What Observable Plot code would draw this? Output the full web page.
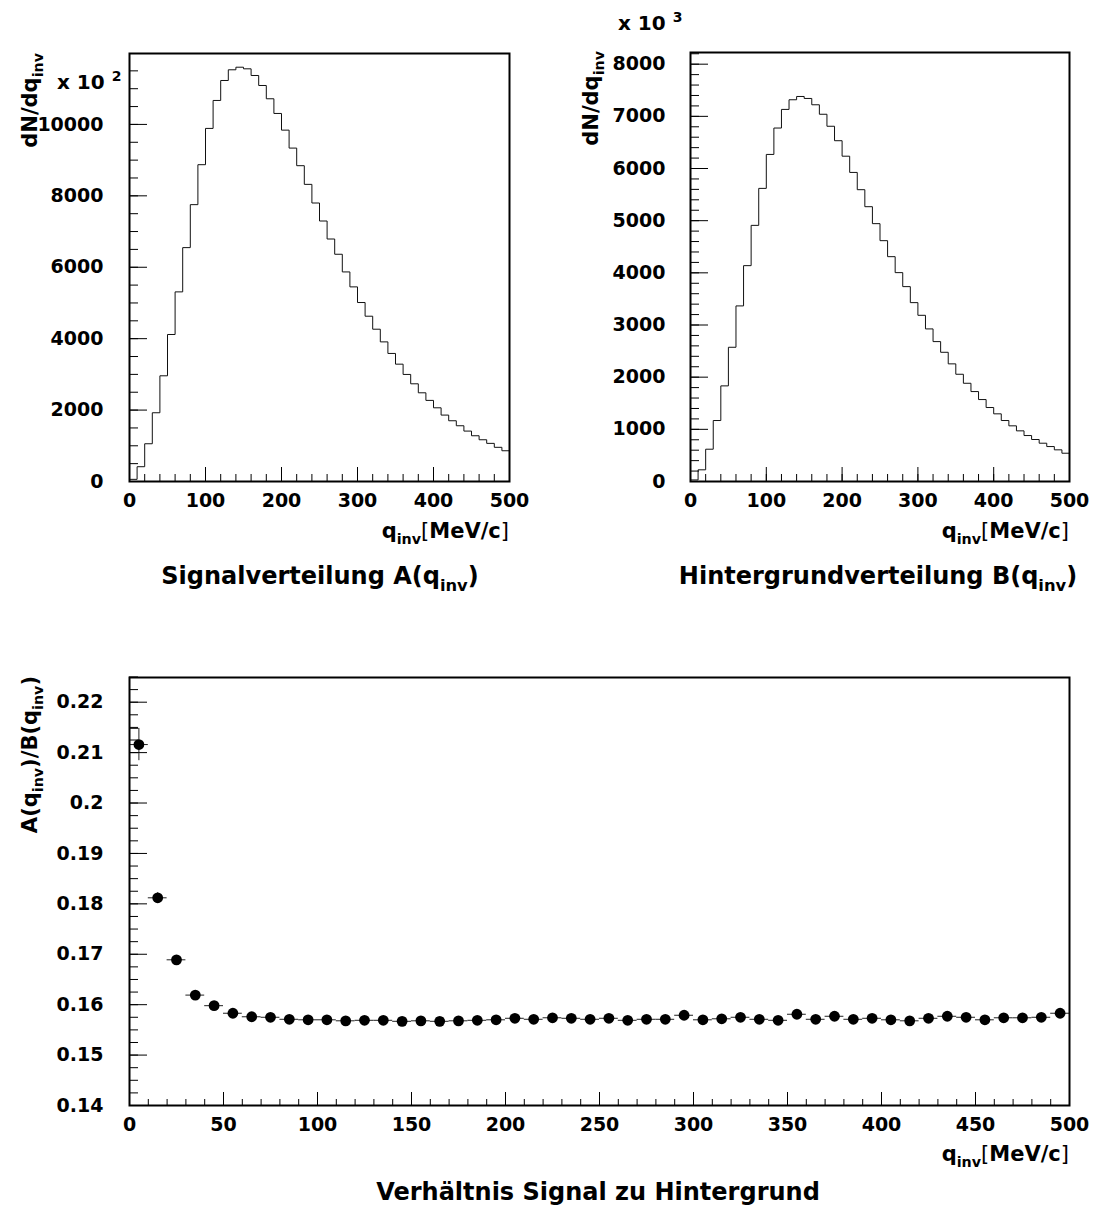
<!DOCTYPE html>
<html><head><meta charset="utf-8">
<script src="https://cdn.jsdelivr.net/npm/d3@7"></script>
<script src="https://cdn.jsdelivr.net/npm/@observablehq/plot@0.6"></script>
<style>
body{margin:0;background:#fff;}
#chart{position:relative;width:1096px;height:1208px;background:#fff;overflow:hidden;}
#chart > svg{position:absolute;}
</style></head><body><div id="chart"></div>
<script>
// ---- data ----
const binEdges = [0,10,20,30,40,50,60,70,80,90,100,110,120,130,140,150,160,170,180,190,200,210,220,230,240,250,260,270,280,290,300,310,320,330,340,350,360,370,380,390,400,410,420,430,440,450,460,470,480,490,500];
// Signalverteilung A(q_inv), in units of 10^2
const signalA = [60,414,1057,1925,2960,4117,5310,6550,7753,8872,9888,10671,11230,11530,11602,11557,11370,11090,10718,10307,9840,9337,8844,8321,7799,7295,6791,6364,5869,5450,5012,4629,4265,3910,3586,3286,2998,2736,2484,2271,2064,1860,1701,1561,1412,1281,1169,1068,957,861];
// Hintergrundverteilung B(q_inv), in units of 10^3
const backgroundB = [30,224,619,1169,1833,2573,3366,4138,4910,5619,6270,6776,7133,7318,7381,7343,7222,7040,6810,6533,6236,5925,5594,5268,4943,4617,4310,4004,3736,3429,3186,2925,2682,2477,2255,2056,1883,1724,1571,1418,1297,1169,1067,971,881,805,734,670,607,542];
// Verhältnis A/B
const ratioAB = [0.2116,0.1812,0.1689,0.1619,0.1598,0.1583,0.1576,0.1575,0.1571,0.1570,0.1570,0.1568,0.1569,0.1569,0.1567,0.1568,0.1567,0.1568,0.1569,0.1570,0.1573,0.1571,0.1574,0.1573,0.1571,0.1573,0.1569,0.1571,0.1571,0.1579,0.1570,0.1572,0.1575,0.1571,0.1569,0.1581,0.1571,0.1577,0.1571,0.1573,0.1570,0.1568,0.1573,0.1577,0.1575,0.1570,0.1574,0.1574,0.1575,0.1583];
const ratioErr = [0.0032,0.0010,0.0006,0.0005,0.0004,0.0004,0.0003,0.0003,0.0003,0.0003,0.0003,0.0003,0.0003,0.0003,0.0003,0.0003,0.0003,0.0003,0.0003,0.0003,0.0003,0.0003,0.0003,0.0003,0.0003,0.0003,0.0003,0.0003,0.0003,0.0003,0.0003,0.0003,0.0003,0.0003,0.0003,0.0003,0.0003,0.0003,0.0003,0.0003,0.0003,0.0003,0.0003,0.0003,0.0003,0.0003,0.0003,0.0003,0.0003,0.0003];

// tick labels and axis ranges
const qDomain = [0, 500];
const histXTicks = [0,100,200,300,400,500];
const signalYTicks = [0,2000,4000,6000,8000,10000];
const backgroundYTicks = [0,1000,2000,3000,4000,5000,6000,7000,8000];
const ratioXTicks = [0,50,100,150,200,250,300,350,400,450,500];
const ratioYTicks = [0.14,0.15,0.16,0.17,0.18,0.19,0.2,0.21,0.22];
const signalYDomain = [0, 11986];
const backgroundYDomain = [0, 8224];
const ratioYDomain = [0.14, 0.2249];
// minor tick steps
const histXMinor = d3.range(0, 501, 20);
const signalYMinor = d3.range(0, 11986, 500);
const backgroundYMinor = d3.range(0, 8224, 200);
const ratioXMinor = d3.range(0, 501, 10);
const ratioYMinor = d3.range(0, 35).map(i => 0.14 + i * 0.0025);

// ---- helpers ----
const FONT = "DejaVu Sans";
const baseStyle = {fontFamily: FONT, fontWeight: "bold", fontSize: "19px", color: "black", background: "transparent", overflow: "visible", maxWidth: "none"};
const blank = () => "";

function frameAxes({xTicks, xMinor, yTicks, yMinor, xMaj, xMin, yMaj, yMin, xPad, yPad}) {
  return [
    Plot.axisX({ticks: xMinor, tickSize: -xMin, tickFormat: blank, label: null, stroke: "black"}),
    Plot.axisX({ticks: xTicks, tickSize: -xMaj, tickFormat: blank, label: null, stroke: "black"}),
    Plot.axisX({ticks: xTicks, tickSize: 0, tickPadding: xPad, tickFormat: d => String(d), label: null, fill: "black"}),
    Plot.axisY({ticks: yMinor, tickSize: -yMin, tickFormat: blank, label: null, stroke: "black"}),
    Plot.axisY({ticks: yTicks, tickSize: -yMaj, tickFormat: blank, label: null, stroke: "black"}),
    Plot.axisY({ticks: yTicks, tickSize: 0, tickPadding: yPad, tickFormat: d => String(d), label: null, fill: "black"}),
    Plot.frame({stroke: "black", strokeWidth: 2})
  ];
}

function histTable(values) {
  return binEdges.map((e, i) => ({q: e, n: values[Math.min(i, values.length - 1)]}));
}

function place(svg, left, top) {
  svg.style.left = left + "px";
  svg.style.top = top + "px";
  document.getElementById("chart").appendChild(svg);
}

// ---- top-left: Signalverteilung ----
const plotA = Plot.plot({
  width: 540, height: 515,
  marginLeft: 129, marginRight: 31, marginTop: 53, marginBottom: 34,
  x: {domain: qDomain},
  y: {domain: signalYDomain},
  style: baseStyle,
  marks: [
    Plot.line(histTable(signalA), {x: "q", y: "n", curve: "step-after", stroke: "#111", strokeWidth: 1}),
    ...frameAxes({xTicks: histXTicks, xMinor: histXMinor, yTicks: signalYTicks, yMinor: signalYMinor,
                  xMaj: 14, xMin: 7, yMaj: 18, yMin: 9, xPad: 12, yPad: 26})
  ]
});
place(plotA, 0, 0);

// ---- top-right: Hintergrundverteilung ----
const plotB = Plot.plot({
  width: 536, height: 515,
  marginLeft: 130, marginRight: 27, marginTop: 52, marginBottom: 34,
  x: {domain: qDomain},
  y: {domain: backgroundYDomain},
  style: baseStyle,
  marks: [
    Plot.line(histTable(backgroundB), {x: "q", y: "n", curve: "step-after", stroke: "#111", strokeWidth: 1}),
    ...frameAxes({xTicks: histXTicks, xMinor: histXMinor, yTicks: backgroundYTicks, yMinor: backgroundYMinor,
                  xMaj: 14, xMin: 7, yMaj: 18, yMin: 9, xPad: 12, yPad: 25})
  ]
});
place(plotB, 560, 0);

// ---- bottom: ratio ----
const ratioRows = ratioAB.map((v, i) => ({
  lo: binEdges[i], hi: binEdges[i + 1], c: (binEdges[i] + binEdges[i + 1]) / 2, v, e: ratioErr[i]
}));
const plotR = Plot.plot({
  width: 1096, height: 540,
  marginLeft: 129, marginRight: 27, marginTop: 77, marginBottom: 35,
  x: {domain: qDomain},
  y: {domain: ratioYDomain},
  style: baseStyle,
  marks: [
    Plot.ruleY(ratioRows, {y: "v", x1: "lo", x2: "hi", stroke: "#222", strokeWidth: 1}),
    Plot.ruleX(ratioRows, {x: "c", y1: d => d.v - d.e, y2: d => d.v + d.e, stroke: "#222", strokeWidth: 1}),
    Plot.ruleY(ratioRows.slice(0, 1), {y: d => d.v + d.e, x1: "lo", x2: "c", stroke: "#222", strokeWidth: 1}),
    Plot.dot(ratioRows, {x: "c", y: "v", r: 5.4, fill: "black", stroke: null}),
    ...frameAxes({xTicks: ratioXTicks, xMinor: ratioXMinor, yTicks: ratioYTicks, yMinor: ratioYMinor,
                  xMaj: 13, xMin: 6, yMaj: 18, yMin: 9, xPad: 12, yPad: 26})
  ]
});
place(plotR, 0, 600);

// ---- text overlay (titles, captions) ----
const overlay = d3.create("svg")
  .attr("width", 1096).attr("height", 1208)
  .style("left", "0px").style("top", "0px").style("pointer-events", "none")
  .attr("font-family", FONT).attr("font-weight", "bold").attr("fill", "black");

function richText({x, y, anchor = "start", rotate = false, size, parts}) {
  const t = overlay.append("text").attr("text-anchor", anchor).attr("font-size", size);
  if (rotate) t.attr("transform", `translate(${x},${y}) rotate(-90)`);
  else t.attr("x", x).attr("y", y);
  let shift = 0;
  for (const p of parts) {
    const ts = t.append("tspan").text(p.t);
    let target = 0;
    if (p.sub) { ts.attr("font-size", size * 0.68); target = size * 0.3; }
    if (p.sup) { ts.attr("font-size", size * 0.7); target = -size * 0.42; }
    if (p.thin) ts.attr("font-weight", "normal");
    if (target !== shift) { ts.attr("dy", target - shift); shift = target; }
  }
}

const qTitle = [{t: "q"}, {t: "inv", sub: true}, {t: "[", thin: true}, {t: "MeV/c"}, {t: "]", thin: true}];
const dndq = [{t: "dN/dq"}, {t: "inv", sub: true}];

richText({x: 57, y: 89, size: 20, parts: [{t: "x 10 "}, {t: "2", sup: true}]});
richText({x: 618, y: 30, size: 20, parts: [{t: "x 10 "}, {t: "3", sup: true}]});
richText({x: 37, y: 53, anchor: "end", rotate: true, size: 21, parts: dndq});
richText({x: 598, y: 51, anchor: "end", rotate: true, size: 21, parts: dndq});
richText({x: 509, y: 538, anchor: "end", size: 21, parts: qTitle});
richText({x: 1069, y: 538, anchor: "end", size: 21, parts: qTitle});
richText({x: 320, y: 584, anchor: "middle", size: 24, parts: [{t: "Signalverteilung A(q"}, {t: "inv", sub: true}, {t: ")"}]});
richText({x: 878, y: 584, anchor: "middle", size: 24, parts: [{t: "Hintergrundverteilung B(q"}, {t: "inv", sub: true}, {t: ")"}]});
richText({x: 37, y: 676, anchor: "end", rotate: true, size: 21,
  parts: [{t: "A(q"}, {t: "inv", sub: true}, {t: ")/B(q"}, {t: "inv", sub: true}, {t: ")"}]});
richText({x: 1069, y: 1161, anchor: "end", size: 21, parts: qTitle});
richText({x: 598, y: 1200, anchor: "middle", size: 24, parts: [{t: "Verhältnis Signal zu Hintergrund"}]});

document.getElementById("chart").appendChild(overlay.node());
</script>
</body></html>
